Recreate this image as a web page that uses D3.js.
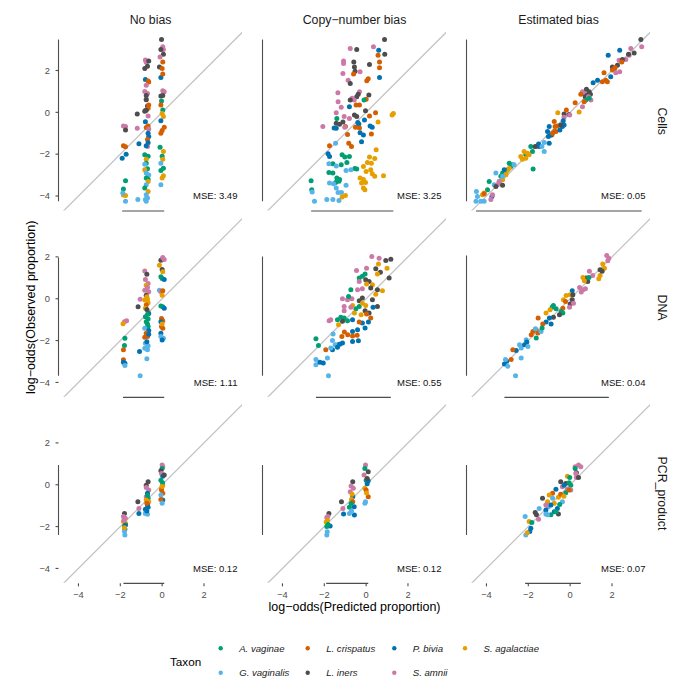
<!DOCTYPE html>
<html lang="en">
<head>
<meta charset="UTF-8">
<title>Predicted vs observed log-odds</title>
<script src="https://d3js.org/d3.v7.min.js"></script>
<style>
    body { margin: 0; background: #fff; font-family: "Liberation Sans", Arial, sans-serif; }
    svg text { font-family: "Liberation Sans", Arial, sans-serif; }
</style>
</head>
<body>
<svg id="chart" width="700" height="700"></svg>
<script>
// ---- data ----
const taxa = ["A. vaginae", "G. vaginalis", "L. crispatus", "L. iners", "P. bivia", "S. amnii", "S. agalactiae"];
const taxonColors = ["#009E73", "#56B4E9", "#D55E00", "#4D4D4D", "#0072B2", "#CC79A7", "#E69F00"];
const models = ["No bias", "Copy\u2212number bias", "Estimated bias"];
const protocols = ["Cells", "DNA", "PCR_product"];
const mseValues = [[3.49, 3.25, 0.05], [1.11, 0.55, 0.04], [0.12, 0.12, 0.07]];
const xTicks = [-4, -2, 0, 2];
const yTicks = [-4, -2, 0, 2];

// points: [taxon index, log-odds predicted, log-odds observed]
const cellsNoBias = [
  [5,-1.85,-0.65],[5,-1.75,-0.68],[3,-1.75,-0.84],[2,-1.85,-1.6],[2,-1.75,-1.65],[4,-1.72,-2.0],[4,-1.91,-2.2],
  [0,-1.75,-3.27],[0,-1.85,-3.67],[6,-1.85,-3.95],[6,-1.75,-3.98],[1,-1.88,-3.86],[1,-1.75,-4.25],
  [1,-1.16,-4.17],[3,-1.19,-0.08],[5,-1.19,-0.76],[4,-1.11,-1.5],
  [5,-0.8,2.5],[5,-0.76,2.4],[3,-0.64,2.45],[3,-0.83,2.1],[3,-0.7,2.2],[4,-0.8,1.57],[2,-0.67,1.5],[2,-0.64,1.45],
  [5,-0.76,1.3],[5,-0.83,1.0],[5,-0.7,0.9],[5,-0.76,0.62],[3,-0.76,0.8],[3,-0.76,0.6],[3,-0.7,0.3],[2,-0.64,0.35],
  [2,-0.67,0.2],[5,-0.8,0.1],[5,-0.67,-0.17],[3,-0.76,0.1],[3,-0.83,0.05],[4,-0.8,-0.45],[2,-0.67,-0.65],[2,-0.76,-0.73],
  [5,-0.64,-0.8],[4,-0.67,-1.0],[4,-0.64,-1.16],[2,-0.7,-1.3],[4,-0.67,-1.45],[5,-0.7,-1.63],[4,-0.76,-1.6],
  [0,-0.83,-2.03],[0,-0.67,-2.1],[6,-0.76,-2.24],[0,-0.76,-2.43],[1,-0.83,-2.48],[0,-0.7,-2.7],[6,-0.83,-2.75],
  [1,-0.76,-2.9],[1,-0.64,-3.0],[0,-0.76,-3.14],[0,-0.67,-3.2],[6,-0.67,-3.3],[1,-0.76,-3.46],[0,-0.83,-3.62],
  [6,-0.67,-3.78],[1,-0.76,-3.94],[1,-0.8,-4.17],[1,-0.76,-4.25],[1,-0.7,-4.1],
  [3,-0.03,3.48],[5,0.03,3.13],[5,0.06,3.0],[3,-0.06,3.0],[3,0.06,2.78],[5,-0.1,2.65],[2,0.03,2.41],[3,-0.13,2.17],
  [2,0,2.1],[4,-0.06,1.67],[2,0.03,1.83],[5,0.03,1.03],[5,0.1,0.98],[3,-0.06,0.78],[3,0.03,0.8],[0,-0.03,0.54],
  [2,-0.06,0.35],[0,0.03,0.11],[6,0,-0.05],[6,0.06,-0.2],[4,-0.06,-0.4],[2,0.1,-0.71],[2,0,-0.87],[2,-0.06,-1.0],
  [0,-0.1,-1.67],[6,0.06,-1.87],[0,0,-2.1],[6,0.03,-2.24],[1,-0.06,-2.43],[0,0.06,-2.67],[0,-0.06,-2.78],
  [6,0.06,-3.03],[6,0,-3.14],[1,-0.06,-3.46]
];
const cellsCopyNumber = [
  [3,0.88,3.48],[5,0.35,3.13],[5,-0.76,3.05],[3,-0.45,3.0],[4,0.6,2.97],[3,0.89,2.78],[2,0.57,2.73],[5,-1.08,2.46],
  [5,-1.08,2.33],[3,-0.59,2.41],[2,0.64,2.41],[2,0.64,2.13],[3,-0.56,2.17],[3,-0.53,1.97],[3,0.16,2.29],[5,-0.29,1.94],
  [5,-1.11,1.86],[2,-0.6,1.83],[4,0.64,1.67],[5,-0.86,1.54],[2,0.03,1.51],[2,0.1,1.6],[3,-0.76,1.38],[5,-0.32,0.98],
  [5,-1.35,0.94],[3,-0.38,0.87],[3,-0.45,0.75],[3,0.13,0.83],[5,-0.67,0.67],[5,-0.57,0.59],[2,0,0.62],[0,-0.1,0.59],
  [3,-0.76,0.59],[5,-1.34,0.51],[2,-0.48,0.35],[2,-0.32,0.35],[5,-1.19,0.24],[4,-0.8,0.27],[3,-0.03,0.08],[5,-1.43,-0.02],
  [2,0.45,-0.02],[6,1.24,-0.13],[6,1.3,-0.05],[3,-0.56,-0.13],[3,-0.45,-0.2],[5,-1.05,-0.2],[5,-0.8,-0.29],[2,0.16,-0.17],
  [4,-0.08,-0.37],[4,-0.4,-0.49],[4,-0.35,-0.56],[4,0.19,-0.65],[6,0.57,-0.46],[0,-1.4,-0.3],[3,-1.27,-0.57],[2,-0.99,-0.68],
  [5,-2.07,-0.68],[2,-0.51,-0.71],[2,-0.32,-0.75],[4,-1.43,-0.76],[4,-1.53,-0.75],[3,-1.43,-0.52],[3,-1.11,-0.46],
  [5,-1.02,-0.71],[4,0.29,-0.71],[2,-0.89,-1.06],[2,0.25,-1.03],[4,-0.13,-1.08],[4,-0.29,-0.97],[4,-0.22,-1.4],
  [2,-0.83,-1.48],[2,-0.7,-1.63],[2,-1.75,-1.6],[1,-1.46,-1.48],[4,-1.82,-1.98],[4,-1.75,-2.11],[0,-1.15,-2.03],
  [0,-1.02,-2.14],[0,-0.8,-2.11],[6,0.48,-1.79],[6,0.16,-2.14],[6,0.41,-2.21],[6,0.06,-2.4],[6,0.25,-2.43],
  [0,-1.59,-2.46],[1,-1.78,-2.46],[1,-1.43,-2.56],[0,-1.19,-2.51],[0,-0.92,-2.4],[0,-0.54,-2.68],[0,-0.45,-2.71],
  [1,-0.96,-2.78],[1,-0.73,-2.75],[6,-0.13,-2.59],[6,0,-2.83],[6,0.22,-2.75],[6,0.29,-2.94],[6,0.41,-3.06],[6,0.83,-3.03],
  [0,-1.78,-2.87],[0,-1.59,-2.9],[0,-1.4,-3.14],[0,-1.27,-3.21],[0,-1.3,-3.29],[0,-1.46,-3.35],[6,-0.29,-3.14],
  [6,-0.13,-3.21],[6,-0.03,-3.35],[6,-0.22,-3.38],[6,-0.13,-3.62],[6,-0.06,-3.7],[1,-1.75,-3.38],[1,-1.56,-3.41],
  [1,-1.43,-3.62],[1,-0.96,-3.48],[1,-1.18,-3.83],[0,-2.63,-3.27],[0,-2.6,-3.7],[1,-2.58,-3.81],[1,-2.47,-4.25],
  [1,-1.88,-4.17],[1,-1.59,-4.17],[1,-1.3,-4.21],[6,-1.15,-4.05],[6,-0.99,-3.98],[1,-1.34,-3.83]
];
const cellsEstimated = [
  [3,3.38,3.48],[5,3.42,3.13],[5,2.9,3.05],[4,2.37,2.97],[3,3.06,2.84],[5,2.82,2.73],[3,2.79,2.78],[4,1.82,2.73],
  [5,2.34,2.49],[5,2.66,2.52],[3,2.5,2.52],[2,2.47,2.41],[3,2.26,2.25],[3,2.02,2.17],[3,2.12,2.1],[2,2.15,2.14],
  [2,2.02,2.02],[5,2.18,1.89],[5,2.37,1.94],[4,1.94,1.7],[2,1.62,1.89],[2,1.7,1.54],[2,1.54,1.46],[2,1.78,1.46],
  [4,1.1,1.41],[4,1.31,1.54],[5,0.59,0.98],[5,0.67,0.9],[3,0.78,1.1],[3,0.91,0.98],[3,0.83,0.83],[3,0.72,0.75],
  [3,0.97,0.87],[5,0.88,0.75],[5,0.99,0.59],[0,0.75,0.59],[0,0.91,0.67],[2,0.51,0.87],[2,0.24,0.46],[2,0.67,0.51],
  [5,0.59,0.27],[6,0.43,0.02],[6,-0.59,-0.02],[3,-0.29,-0.08],[3,-0.05,-0.1],[5,-0.29,-0.24],[5,-0.02,-0.13],
  [2,-0.18,0.11],[2,-0.76,-0.44],[2,-0.61,-0.65],[2,-0.68,-0.92],[2,-0.88,-1.08],[4,-0.33,-0.4],[4,-0.29,-0.6],
  [4,-1.0,-0.68],[4,-1.08,-0.92],[4,-0.92,-1.08],[4,-1.04,-1.16],[4,-0.37,-0.68],[4,-0.49,-0.84],[2,-0.72,-0.68],
  [2,-0.75,-0.92],[2,-0.84,-1.0],[3,-0.45,-0.6],[1,-1.24,-1.44],[1,-1.61,-1.63],[4,-1.51,-1.51],[4,-1.0,-1.48],
  [4,-1.48,-1.63],[0,-1.88,-1.63],[0,-2.12,-2.03],[0,-1.8,-1.87],[0,-1.77,-2.71],[1,-1.35,-1.63],[1,-1.24,-1.87],
  [3,-1.67,-1.63],[6,-2.2,-1.87],[6,-2.04,-1.95],[6,-2.36,-2.11],[6,-2.12,-2.19],[6,-2.28,-2.24],[6,-1.96,-2.03],
  [0,-2.91,-2.43],[0,-2.75,-2.51],[0,-2.83,-2.59],[0,-2.99,-2.75],[0,-3.23,-2.9],[0,-3.31,-3.06],[0,-3.87,-3.3],
  [0,-3.95,-3.7],[6,-2.91,-2.67],[6,-3.04,-2.83],[6,-3.07,-2.98],[6,-3.23,-3.22],[6,-3.39,-3.35],[6,-4.19,-3.94],
  [6,-4.11,-3.86],[1,-2.68,-2.51],[1,-3.55,-2.9],[1,-3.23,-3.06],[1,-3.39,-3.3],[1,-3.63,-3.46],[1,-4.43,-4.02],
  [1,-4.5,-4.25],[1,-4.27,-4.25],[1,-4.11,-4.25],[1,-4.48,-3.78],[4,-3.15,-2.75],[4,-3.74,-4.02],[5,-3.71,-3.94],
  [5,-3.79,-4.17],[5,-3.39,-3.3],[5,-3.47,-3.46],[3,-3.55,-3.54],[3,-3.23,-3.48],[2,-4.11,-3.89]
];
const dnaNoBias = [
  [5,-1.8,-1.1],[5,-1.7,-1.05],[6,-1.87,-1.2],[0,-1.78,-1.89],[0,-1.8,-2.24],[2,-1.85,-2.44],[2,-1.85,-2.92],
  [4,-1.85,-3.03],[4,-1.78,-3.08],[1,-1.78,-3.19],[3,-1.15,-0.38],[5,-1.05,-0.02],[4,-1.08,-2.52],[1,-1.05,-3.68],
  [5,-0.83,1.33],[3,-0.73,1.17],[5,-0.8,0.92],[5,-0.67,0.73],[6,-0.76,0.65],[5,-0.7,0.54],[5,-0.83,0.41],[5,-0.64,0.33],
  [3,-0.76,0.17],[6,-0.7,-0.03],[6,-0.83,-0.06],[6,-0.67,-0.19],[2,-0.76,-0.3],[6,-0.8,-0.46],[6,-0.67,-0.62],
  [3,-0.73,-0.51],[4,-0.64,-0.7],[0,-0.8,-0.86],[0,-0.67,-0.97],[0,-0.76,-1.1],[0,-0.7,-1.21],[0,-0.67,-1.33],
  [1,-0.83,-1.41],[4,-0.64,-1.52],[2,-0.76,-1.65],[2,-0.7,-1.81],[2,-0.83,-1.84],[4,-0.64,-1.7],[1,-0.8,-2.13],
  [1,-0.67,-2.25],[4,-0.73,-2.05],[1,-0.83,-2.37],[1,-0.7,-2.44],[1,-0.73,-2.87],[0,-0.7,-0.75],[6,-0.73,0.1],
  [3,-0.06,1.84],[3,0,1.87],[5,0.03,1.97],[5,0.1,1.87],[6,-0.13,1.6],[3,0,1.4],[6,0.03,1.29],[0,-0.06,1.05],
  [0,0,0.97],[4,0.1,0.92],[1,-0.13,0.41],[5,-0.06,0.33],[2,0.03,0.38],[6,0,0.17],[0,-0.06,-0.35],[0,0.03,-0.38],
  [4,0.1,-0.46],[2,-0.03,-0.94],[2,0.03,-1.05],[4,-0.06,-1.1],[2,-0.03,-1.33],[2,0.03,-1.41],[6,0,-1.21],
  [4,-0.06,-1.65],[1,-0.06,-1.81],[1,0.06,-1.89],[4,0,-1.97]
];
const dnaCopyNumber = [
  [5,0.27,2.02],[5,0.62,1.94],[3,0.94,1.83],[3,1.18,1.89],[6,0.59,1.66],[6,1.0,1.46],[5,-0.46,1.35],[5,0.02,1.46],
  [3,0.46,1.43],[3,0.68,1.27],[6,0.54,1.18],[0,-0.05,1.18],[3,1.1,0.99],[0,-0.33,0.99],[0,-0.18,1.07],[3,-0.02,0.91],
  [3,0.14,0.83],[5,-0.33,0.83],[6,0.02,0.7],[6,0.3,0.67],[3,0.22,0.51],[3,0.54,0.43],[5,-0.41,0.43],[5,-0.18,0.48],
  [0,-0.73,0.43],[6,0.78,0.38],[6,0.46,0.22],[3,-0.18,0.03],[3,-0.33,-0.1],[5,-1.13,0],[5,-0.89,-0.05],[5,-0.68,0],
  [0,-0.84,0.11],[3,0.54,-0.37],[4,0.33,-0.41],[3,0.3,-0.05],[0,-0.33,-0.37],[0,-0.49,-0.48],[6,-0.65,-0.32],
  [6,-0.18,-0.21],[6,-0.02,-0.32],[5,-1.05,-0.37],[5,-0.73,-0.41],[5,-1.05,-0.57],[6,-0.56,-0.68],[6,-0.24,-0.76],
  [3,0.14,-0.68],[3,-0.05,-0.57],[2,0.02,-0.73],[2,0.22,-0.92],[0,-1.21,-0.89],[0,-1.37,-1.0],[0,-1.05,-0.92],
  [0,-0.89,-1.05],[5,-1.69,-1.0],[5,-1.77,-1.05],[3,-1.13,-1.08],[6,-1.32,-1.24],[4,-0.65,-1.0],[4,-0.18,-1.16],
  [4,0.11,-1.11],[2,-0.33,-1.11],[4,-0.05,-1.4],[4,-0.41,-1.48],[4,-0.65,-1.56],[2,-1.04,-1.59],[2,-0.88,-1.72],
  [2,-0.65,-1.78],[2,-0.43,-1.75],[2,-1.16,-1.8],[1,-1.58,-1.69],[0,-2.4,-1.91],[0,-2.28,-2.23],[1,-1.61,-2.0],
  [1,-1.48,-2.2],[1,-1.32,-2.17],[4,-1.26,-2.17],[4,-1.13,-2.12],[4,-1.61,-2.44],[4,-1.37,-2.32],[2,-1.93,-2.44],
  [4,-0.65,-2.04],[4,-0.37,-2.01],[1,-1.69,-2.36],[1,-2.4,-2.91],[1,-2.4,-3.15],[1,-1.85,-2.83],[4,-2.21,-3.03],
  [4,-2.05,-3.07],[1,-1.8,-3.68]
];
const dnaEstimated = [
  [5,1.75,2.07],[5,1.85,1.94],[5,1.8,1.82],[6,1.56,1.66],[6,1.64,1.46],[6,1.43,1.11],[6,1.37,0.96],[3,1.43,1.39],
  [3,1.53,1.31],[5,0.92,1.31],[5,1.08,1.11],[3,0.76,0.99],[3,0.84,0.83],[6,0.68,0.86],[6,0.61,1.02],[0,0.89,1.02],
  [5,0.45,0.54],[5,0.61,0.43],[5,0.73,0.48],[5,0.53,0.32],[4,0.1,0.38],[6,-0.19,0.16],[6,-0.32,-0.05],[6,0,0.19],
  [3,0.13,0.19],[3,0.1,-0.05],[3,0,-0.25],[5,0.16,-0.21],[5,-0.03,-0.41],[2,-0.22,-0.13],[2,-0.35,-0.45],
  [0,-0.8,-0.32],[0,-0.86,-0.41],[0,-0.67,-0.48],[0,-0.43,-0.61],[0,-0.35,-0.68],[6,-0.96,-0.53],[6,-1.15,-0.68],
  [3,-0.51,-0.76],[3,-0.8,-0.89],[4,-0.99,-0.92],[4,-1.15,-1.11],[4,-0.91,-1.21],[2,-1.53,-0.92],[2,-1.31,-1.21],
  [2,-1.62,-1.48],[2,-1.78,-1.56],[2,-1.54,-1.64],[2,-1.86,-1.72],[1,-1.66,-1.43],[1,-1.39,-1.56],[1,-2.1,-1.96],
  [1,-2.42,-2.2],[1,-2.34,-2.36],[0,-1.34,-1.4],[0,-1.62,-1.88],[4,-2.07,-2.07],[4,-2.18,-2.2],[4,-2.58,-2.48],
  [4,-3.03,-2.99],[4,-3.14,-3.12],[2,-2.74,-2.44],[2,-2.82,-2.91],[1,-2.02,-2.28],[1,-2.34,-2.83],[1,-3.09,-2.91],
  [1,-2.98,-3.23],[1,-2.61,-3.68]
];
const pcrNoBias = [
  [3,-1.8,-1.37],[5,-1.85,-1.52],[5,-1.76,-1.6],[6,-1.85,-1.76],[6,-1.75,-1.84],[0,-1.8,-1.97],[4,-1.75,-1.92],
  [0,-1.78,-2.13],[1,-1.8,-2.24],[1,-1.78,-2.4],[5,-1.82,-1.68],[6,-1.8,-2.05],
  [3,-1.16,-0.81],[5,-1.11,-1.13],[4,-1.11,-1.37],
  [3,-0.67,0.14],[3,-0.76,-0.02],[5,-0.76,-0.13],[5,-0.64,-0.25],[4,-0.7,-0.41],[5,-0.76,-0.57],[0,-0.67,-0.65],
  [6,-0.76,-0.73],[6,-0.64,-0.81],[3,-0.7,-0.97],[4,-0.67,-1.08],[4,-0.8,-1.17],[0,-0.76,-1.29],[1,-0.7,-1.41],
  [1,-0.8,-1.37],[2,-0.73,-0.88],[0,-0.7,-0.5],[4,-0.73,-1.25],
  [5,0,0.94],[5,0.03,0.86],[0,0,0.78],[3,-0.06,0.67],[5,-0.03,0.54],[4,0.03,0.41],[0,-0.06,0.22],[3,0.1,0.46],
  [6,0.03,-0.02],[6,-0.03,-0.17],[2,-0.03,-0.25],[2,0.03,-0.41],[1,-0.06,-0.49],[4,0.03,-0.73],[2,-0.06,-0.7],
  [1,0,-0.89],[0,0.02,0.1],[6,0,-0.08]
];
const pcrCopyNumber = [
  [3,-1.78,-1.37],[5,-1.83,-1.52],[5,-1.88,-1.56],[6,-1.91,-1.78],[4,-1.72,-1.97],[0,-1.88,-2.0],[1,-1.88,-2.4],
  [6,-1.85,-1.7],[0,-1.82,-1.9],[1,-1.86,-2.25],
  [3,-1.18,-0.81],[5,-1.11,-1.13],[4,-1.08,-1.4],
  [3,-0.64,0.14],[5,-0.72,-0.06],[5,-0.61,-0.17],[5,-0.76,-0.33],[4,-0.64,-0.57],[6,-0.7,-0.7],[2,-0.64,-0.81],
  [4,-0.57,-1.05],[0,-0.8,-1.08],[4,-0.56,-1.45],[1,-0.8,-1.37],[6,-0.67,-0.45],[0,-0.72,-0.9],[1,-0.7,-1.25],
  [5,-0.03,0.94],[0,-0.06,0.78],[3,0.1,0.62],[5,-0.1,0.46],[0,0,0.22],[4,0.1,0.19],[6,-0.06,-0.17],[2,0,-0.25],
  [2,0.1,-0.57],[1,-0.03,-0.81],[1,-0.06,-0.89],[3,0.05,0.3],[6,0.02,-0.4],[4,0.05,0.05]
];
const pcrEstimated = [
  [5,0.4,0.94],[5,0.51,0.86],[5,0.24,0.86],[0,0.24,0.78],[3,0.3,0.57],[5,0.27,0.54],[5,0.3,0.35],[3,0.4,0.35],
  [6,-0.13,0.41],[0,-0.02,0.35],[3,-0.45,0.14],[3,-0.21,0.06],[5,-0.37,-0.1],[5,-0.13,-0.22],[5,0.03,-0.25],
  [4,-0.68,-0.22],[4,-0.29,-0.02],[0,-0.05,0.1],[0,-0.21,-0.38],[0,0.03,-0.02],[2,-0.84,-0.41],[2,-0.05,-0.25],
  [6,-1.0,-0.49],[6,-0.56,-0.6],[6,-1.08,-0.81],[6,-0.76,-0.89],[1,-0.84,-0.65],[1,-1.04,-1.05],[1,-0.37,-0.81],
  [4,-0.92,-0.97],[4,-1.16,-1.21],[4,-0.61,-1.13],[4,-0.76,-1.29],[3,-0.56,-1.4],[3,-1.32,-0.65],[0,-0.68,-1.29],
  [0,-0.92,-1.44],[5,-1.16,-0.97],[1,-1.16,-1.4],[1,-1.08,-1.44],[1,-2.15,-1.52],[3,-1.67,-1.33],[3,-1.61,-1.44],
  [5,-1.51,-1.65],[1,-1.48,-1.13],[6,-1.96,-1.76],[0,-1.83,-1.81],[4,-1.88,-2.08],[4,-1.93,-2.24],[1,-2.12,-2.4],
  [6,-2.05,-2.29],[2,-0.45,-0.45],[6,-0.3,-0.55],[0,-0.5,-0.95]
];

// rows = protocols, columns = models
const panelData = [
  [cellsNoBias, cellsCopyNumber, cellsEstimated],
  [dnaNoBias, dnaCopyNumber, dnaEstimated],
  [pcrNoBias, pcrCopyNumber, pcrEstimated]
];

// ---- layout ----
const colLeft = [59, 263, 467];
const rowTop = [31.8, 218.2, 404.2];
const unit = 20.92;
const xDomain = [-4.93, 3.82];
const yDomain = [-4.69, 3.85];
const panelW = (xDomain[1] - xDomain[0]) * unit;
const panelH = (yDomain[1] - yDomain[0]) * unit;
const axisColor = "#4d4d4d";

const x = d3.scaleLinear().domain(xDomain).range([0, panelW]);
const y = d3.scaleLinear().domain(yDomain).range([panelH, 0]);

const svg = d3.select("#chart");
const fmt = v => (v < 0 ? "\u2212" + Math.abs(v) : "" + v);

svg.append("defs").append("clipPath").attr("id", "panelClip")
    .append("rect").attr("width", panelW).attr("height", panelH);

panelData.forEach((row, r) => {
    row.forEach((pts, c) => {
        const g = svg.append("g").attr("transform", `translate(${colLeft[c]},${rowTop[r]})`);

        // identity line
        g.append("line")
            .attr("clip-path", "url(#panelClip)")
            .attr("x1", x(-6)).attr("y1", y(-6))
            .attr("x2", x(6)).attr("y2", y(6))
            .attr("stroke", "#c4c4c4").attr("stroke-width", 1.3);

        // points
        g.selectAll("circle").data(pts).enter().append("circle")
            .attr("cx", d => x(d[1]))
            .attr("cy", d => y(d[2]))
            .attr("r", 2.5)
            .attr("fill", d => taxonColors[d[0]]);

        // range frame axes
        const xr = d3.extent(pts, d => d[1]);
        const yr = d3.extent(pts, d => d[2]);
        g.append("line")
            .attr("x1", x(xr[0])).attr("x2", x(xr[1]))
            .attr("y1", panelH + 0.5).attr("y2", panelH + 0.5)
            .attr("stroke", axisColor).attr("stroke-width", 1.1);
        g.append("line")
            .attr("x1", -0.5).attr("x2", -0.5)
            .attr("y1", y(yr[0])).attr("y2", y(yr[1]))
            .attr("stroke", axisColor).attr("stroke-width", 1.1);

        // MSE label
        g.append("text")
            .attr("x", x(3.6)).attr("y", y(-4))
            .attr("dy", "0.35em")
            .attr("text-anchor", "end")
            .attr("font-size", 9.5)
            .attr("fill", "#111")
            .text("MSE: " + mseValues[r][c].toFixed(2));

        // y ticks on first column
        if (c === 0) {
            yTicks.forEach(t => {
                g.append("line").attr("x1", -3.5).attr("x2", -0.5)
                    .attr("y1", y(t)).attr("y2", y(t))
                    .attr("stroke", axisColor).attr("stroke-width", 1.1);
                g.append("text").attr("x", -9).attr("y", y(t)).attr("dy", "0.35em")
                    .attr("text-anchor", "end").attr("font-size", 9.3).attr("fill", axisColor)
                    .text(fmt(t));
            });
        }
        // x ticks on bottom row
        if (r === 2) {
            xTicks.forEach(t => {
                g.append("line").attr("x1", x(t)).attr("x2", x(t))
                    .attr("y1", panelH + 0.5).attr("y2", panelH + 3.5)
                    .attr("stroke", axisColor).attr("stroke-width", 1.1);
                g.append("text").attr("x", x(t)).attr("y", panelH + 12)
                    .attr("dy", "0.35em")
                    .attr("text-anchor", "middle").attr("font-size", 9.3).attr("fill", axisColor)
                    .text(fmt(t));
            });
        }
    });
});

// strip labels
models.forEach((m, c) => {
    svg.append("text")
        .attr("x", colLeft[c] + panelW / 2).attr("y", 20)
        .attr("dy", "0.35em").attr("text-anchor", "middle")
        .attr("font-size", 12.3).attr("fill", "#1a1a1a")
        .text(m);
});
protocols.forEach((p, r) => {
    svg.append("text")
        .attr("transform", `translate(662,${rowTop[r] + panelH / 2}) rotate(90)`)
        .attr("dy", "0.35em").attr("text-anchor", "middle")
        .attr("font-size", 12.3).attr("fill", "#1a1a1a")
        .text(p);
});

// axis titles
svg.append("text")
    .attr("x", (colLeft[0] + colLeft[2] + panelW) / 2).attr("y", 607)
    .attr("dy", "0.35em").attr("text-anchor", "middle")
    .attr("font-size", 12.5).attr("fill", "#000")
    .text("log\u2212odds(Predicted proportion)");
svg.append("text")
    .attr("transform", `translate(31,${(rowTop[0] + rowTop[2] + panelH) / 2}) rotate(-90)`)
    .attr("dy", "0.35em").attr("text-anchor", "middle")
    .attr("font-size", 12.5).attr("fill", "#000")
    .text("log\u2212odds(Observed proportion)");

// legend
const legend = svg.append("g");
legend.append("text")
    .attr("x", 170).attr("y", 661.5).attr("dy", "0.35em")
    .attr("font-size", 11.7).attr("fill", "#000")
    .text("Taxon");
const legCols = [220.7, 307.7, 394.3, 465];
const legRows = [648.3, 672.7];
taxa.forEach((t, i) => {
    const cx = legCols[Math.floor(i / 2)];
    const cy = legRows[i % 2];
    legend.append("circle").attr("cx", cx).attr("cy", cy).attr("r", 2.2)
        .attr("fill", taxonColors[i]);
    legend.append("text").attr("x", cx + 18.5).attr("y", cy).attr("dy", "0.35em")
        .attr("font-size", 9.6).attr("font-style", "italic").attr("fill", "#1a1a1a")
        .text(t);
});
</script>
</body>
</html>
